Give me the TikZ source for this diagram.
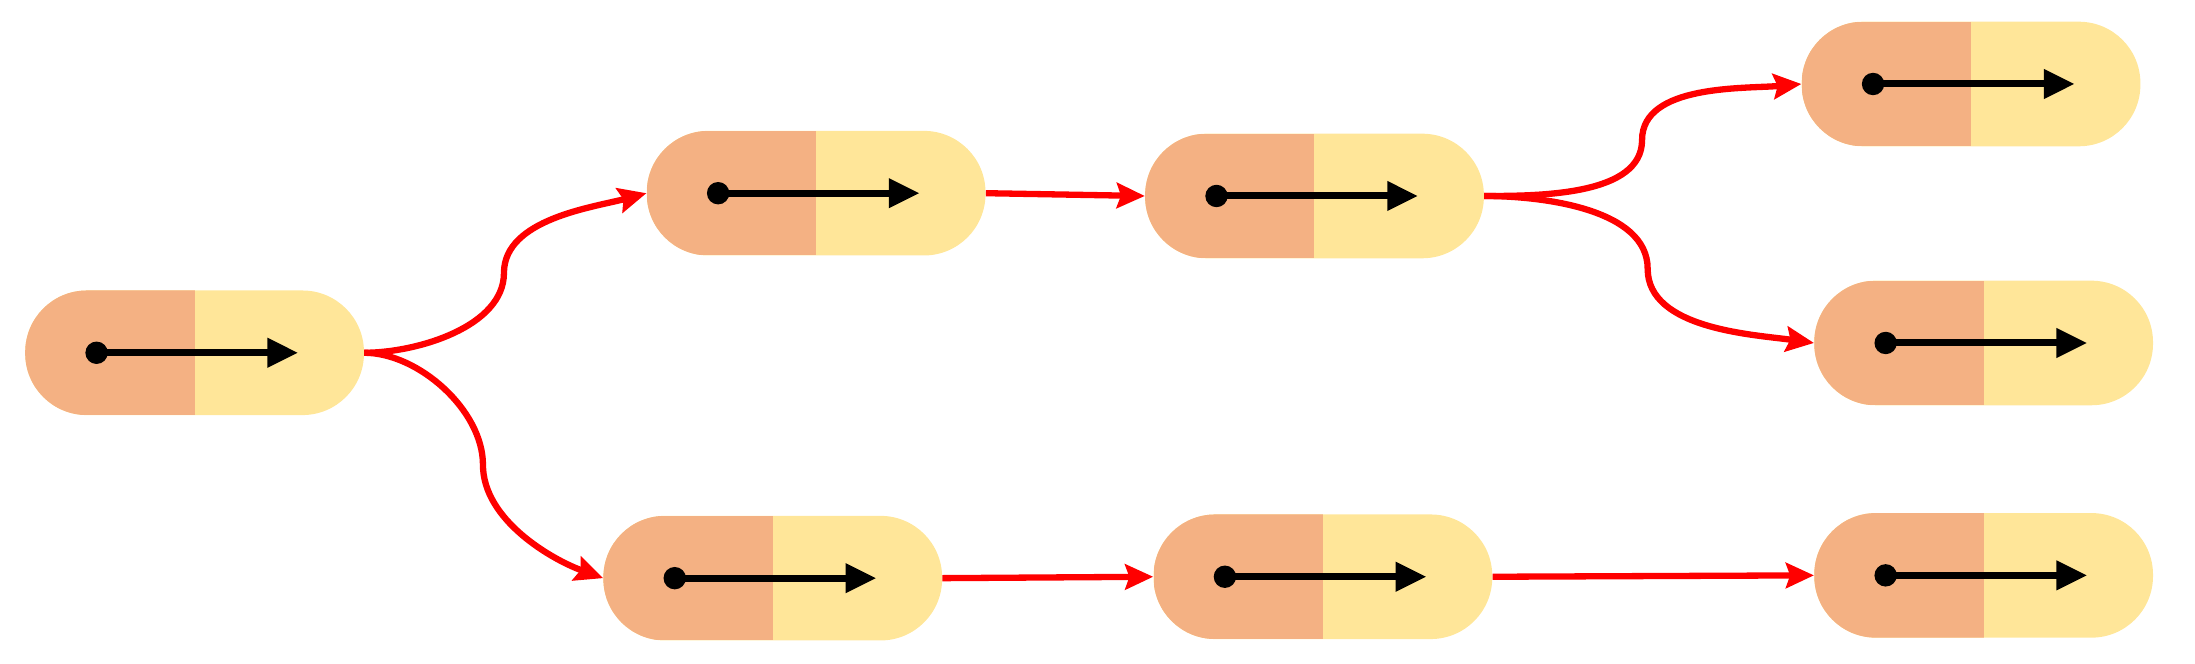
\documentclass[tikz,border=0pt]{standalone}
\usetikzlibrary{arrows.meta}
\definecolor{pillorange}{HTML}{F4B183}
\definecolor{pillyellow}{HTML}{FFE699}
\tikzset{
  pill/.style={rounded corners=44pt, minimum width=242pt, minimum height=89pt,
    inner sep=0pt, fill=pillyellow,
    path picture={
      \fill[pillorange, sharp corners] (path picture bounding box.south west) rectangle (path picture bounding box.north);
      \fill[black] ([xshift=-70pt]path picture bounding box.center) circle (8pt);
      \draw[line width=5pt, sharp corners, -{Triangle[length=22pt,width=20pt]}]
        ([xshift=-70pt]path picture bounding box.center) -- ([xshift=74pt]path picture bounding box.center);
    }},
  link/.style={red, line width=4.5pt, -{Stealth[length=20pt,width=18pt,inset=3pt]}}
}
\begin{document}
\begin{tikzpicture}[x=1pt,y=-1pt]
  \useasboundingbox (0,0) rectangle (1568,474);

  \node[pill] (n1) at (139,252) {};
  \node[pill] (n2) at (583,138) {};
  \node[pill] (n3) at (939,140) {};
  \node[pill] (n4) at (1408,60) {};
  \node[pill] (n5) at (1417,245) {};
  \node[pill] (n6) at (552,413) {};
  \node[pill] (n7) at (945,412) {};
  \node[pill] (n8) at (1417,411) {};

  \coordinate (m12) at (360,195);
  \coordinate (m16) at (345,332);
  \coordinate (m34) at (1173,100);
  \coordinate (m35) at (1177,192);

  \draw[link] (n1.east) to[out=0,in=-90,looseness=0.85] (m12) to[out=90,in=195,looseness=0.85] (n2.west);
  \draw[link] (n1.east) to[out=0,in=90,looseness=0.85] (m16) to[out=-90,in=160,looseness=0.85] (n6.west);
  \draw[link] (n2.east) -- (n3.west);
  \draw[link] (n3.east) to[out=0,in=-90,looseness=0.85] (m34) to[out=90,in=185,looseness=0.85] (n4.west);
  \draw[link] (n3.east) to[out=0,in=90,looseness=0.85] (m35) to[out=-90,in=172,looseness=0.85] (n5.west);
  \draw[link] (n6.east) -- (n7.west);
  \draw[link] (n7.east) -- (n8.west);
\end{tikzpicture}
\end{document}
